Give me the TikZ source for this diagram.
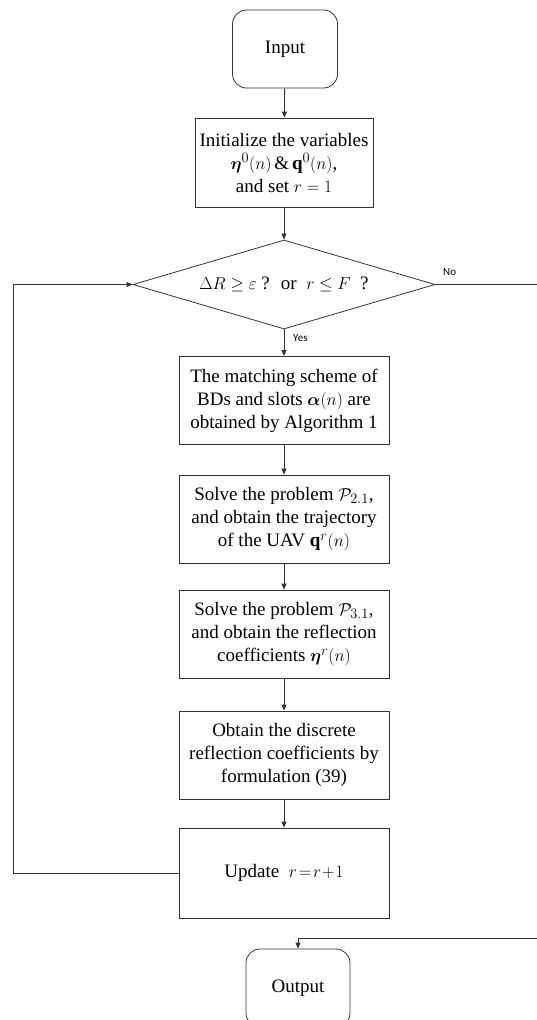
\documentclass[tikz,border=0pt]{standalone}
\usepackage{amsmath}
\usepackage{bm}
\usepackage{fontspec}
\setmainfont{Liberation Serif}
\newfontfamily\labfont{Carlito}
\usetikzlibrary{shapes.geometric,arrows.meta}
\begin{document}
\begin{tikzpicture}[x=1pt,y=-1pt,
  line/.style={line width=0.8pt,draw=black!80},
  arr/.style={line,-{Triangle[length=6pt,width=5pt]}},
  term/.style={line,rounded corners=14pt,minimum width=105pt,minimum height=78pt,inner sep=0pt,font=\fontsize{19}{23}\selectfont},
  procbox/.style={line,minimum width=210pt,minimum height=88pt,inner sep=0pt,align=center,font=\fontsize{19}{23}\selectfont},
  decbox/.style={line,shape=diamond,minimum width=302pt,minimum height=89pt,inner sep=0pt},
  dectext/.style={inner sep=0pt,font=\fontsize{19}{23}\selectfont},
  lab/.style={font=\labfont\fontsize{11}{13}\selectfont,inner sep=0pt}]
\clip (0,0) rectangle (537,1020);
\node[term] (input) at (285,49) {Input};
\node[procbox,minimum width=178pt,minimum height=89pt] (init) at (284,162.5) {Initialize the variables\\ $\bm{\eta}^0(n)\,\&\,\mathbf{q}^0(n)$,\\ and set $r=1$};
\node[decbox] (dec) at (284,284.5) {};
\node[dectext] (dect) at (dec.center) {$\Delta R\geq\varepsilon$ ? \ or \ $r\leq F$ \ ?};
\node[procbox] (bd) at (284,400.5) {The matching scheme of\\ BDs and slots $\bm{\alpha}(n)$ are\\ obtained by Algorithm 1};
\node[procbox] (p21) at (284,519) {Solve the problem $\mathcal{P}_{2.1}$,\\ and obtain the trajectory\\ of the UAV $\mathbf{q}^r(n)$};
\node[procbox] (p31) at (284,634) {Solve the problem $\mathcal{P}_{3.1}$,\\ and obtain the reflection\\ coefficients $\bm{\eta}^r(n)$};
\node[procbox] (obt) at (284,755) {Obtain the discrete\\ reflection coefficients by\\ formulation (39)};
\node[procbox,minimum height=90pt] (upd) at (284,873) {Update\enspace $r\!=\!r\!+\!1$};
\node[term,minimum width=104pt] (output) at (298,988) {Output};
\coordinate (loopL1) at (13,873);
\coordinate (loopL2) at (13,284.5);
\coordinate (noEnd) at (540,284.5);
\coordinate (outStart) at (540,938);
\coordinate (outTurn) at (298,938);
\draw[arr] (input) -- (init);
\draw[arr] (init) -- (dec);
\draw[arr] (dec) -- (bd);
\draw[arr] (bd) -- (p21);
\draw[arr] (p21) -- (p31);
\draw[arr] (p31) -- (obt);
\draw[arr] (obt) -- (upd);
\draw[arr] (upd.west) -- (loopL1) -- (loopL2) -- (dec.west);
\draw[line] (dec.east) -- (noEnd);
\draw[arr] (outStart) -- (outTurn) -- (output.north);
\node[lab,anchor=west] (yes) at (293,338) {Yes};
\node[lab,anchor=west] (no) at (443,272) {No};
\end{tikzpicture}
\end{document}
